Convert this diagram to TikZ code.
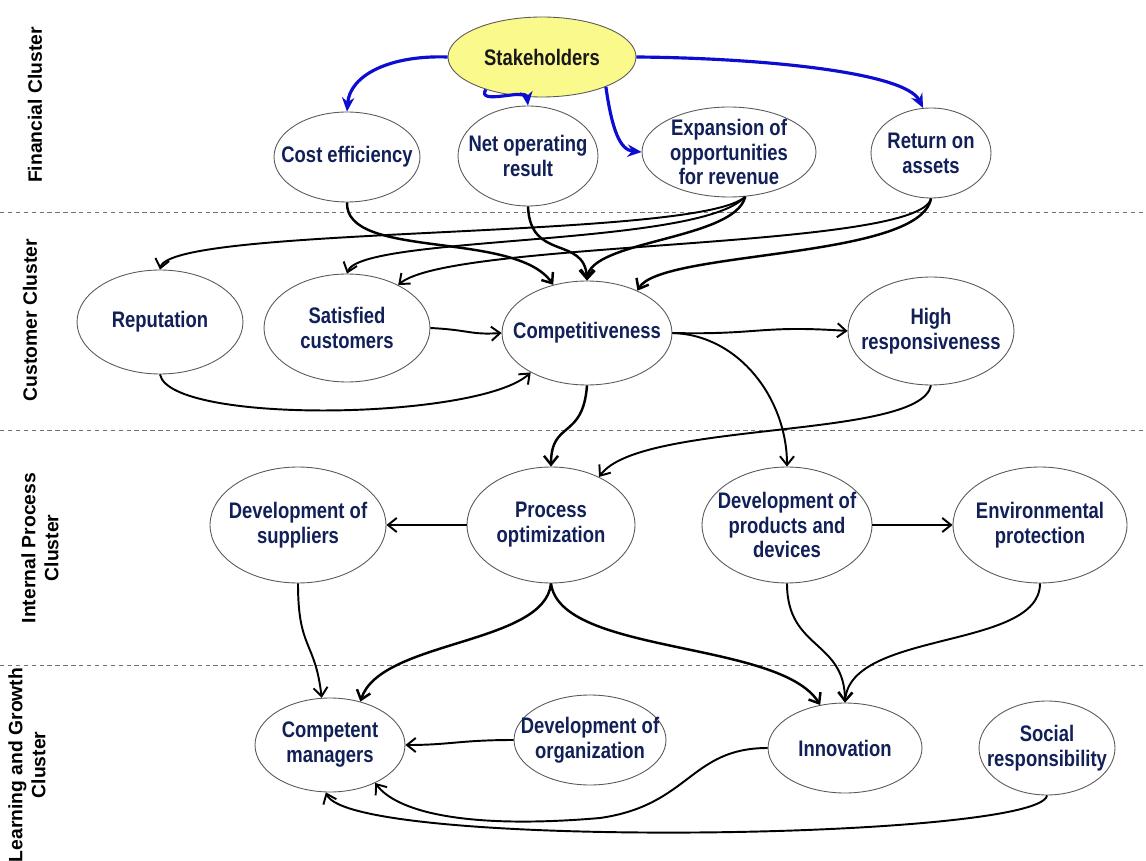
\documentclass[tikz,border=0pt]{standalone}
\usepackage{fontspec}
\setmainfont{Liberation Sans}
\newfontfamily\narrowfont{Liberation Sans}[FakeStretch=0.82]
\usetikzlibrary{shapes.geometric,arrows.meta}
\definecolor{navytext}{RGB}{18,32,88}
\definecolor{stakeyellow}{RGB}{250,250,140}
\definecolor{fundblue}{RGB}{12,12,210}
\tikzset{
  goal/.style={ellipse, draw=black!65, line width=0.5pt, fill=white, text=navytext, align=center,
    inner sep=-2cm, font=\narrowfont\bfseries\fontsize{12.8}{14.2}\selectfont},
  cluster/.style={rotate=90, align=center, font=\bfseries\fontsize{11}{13}\selectfont},
  link/.style={->, line width=1.1pt},
  fund/.style={-{Stealth[length=8pt,width=7pt]}, draw=fundblue, line width=1.8pt},
  sep/.style={draw=black!55, line width=0.5pt, dash pattern=on 2.5pt off 2pt}
}
\begin{document}
\begin{tikzpicture}[x=0.02cm,y=-0.02cm,>={Straight Barb[length=5pt,width=8pt]}]
\useasboundingbox (0,0) rectangle (1146,861);
\draw[sep] (0,212) -- (1146,212);
\draw[sep] (0,430) -- (1146,430);
\draw[sep] (0,665) -- (1146,665);

\node[cluster] (fincl) at (35,105) {Financial Cluster};
\node[cluster] (cuscl) at (30,320) {Customer Cluster};
\node[cluster] (intcl) at (40,548) {Internal Process\\Cluster};
\node[cluster] (lrncl) at (27,765) {Learning and Growth\\Cluster};

\node[goal, fill=stakeyellow, text=black!90, minimum width=3.76cm, minimum height=1.6cm] (stake) at (542,57) {Stakeholders};
\node[goal, minimum width=2.92cm, minimum height=1.8cm] (cost) at (347,157) {Cost efficiency};
\node[goal, minimum width=2.8cm, minimum height=2cm] (netop) at (528,156) {Net operating\\result};
\node[goal, minimum width=3.48cm, minimum height=1.8cm] (expan) at (729,152) {Expansion of\\opportunities\\for revenue};
\node[goal, minimum width=2.4cm, minimum height=1.8cm] (roa) at (931,153) {Return on\\assets};

\node[goal, minimum width=3.32cm, minimum height=2.08cm] (repu) at (160,322) {Reputation};
\node[goal, minimum width=3.32cm, minimum height=2.16cm] (satis) at (347,328) {Satisfied\\customers};
\node[goal, minimum width=3.4cm, minimum height=2.08cm] (compet) at (587,333) {Competitiveness};
\node[goal, minimum width=3.32cm, minimum height=2.16cm] (highr) at (931,331) {High\\responsiveness};

\node[goal, minimum width=3.52cm, minimum height=2.32cm] (devsup) at (298,525) {Development of\\suppliers};
\node[goal, minimum width=3.36cm, minimum height=2.32cm] (procopt) at (551,525) {Process\\optimization};
\node[goal, minimum width=3.4cm, minimum height=2.32cm] (devprod) at (787,525) {Development of\\products and\\devices};
\node[goal, minimum width=3.48cm, minimum height=2.32cm] (envir) at (1040,525) {Environmental\\protection};

\node[goal, minimum width=3cm, minimum height=1.88cm] (compman) at (330,745) {Competent\\managers};
\node[goal, minimum width=3.04cm, minimum height=1.8cm] (devorg) at (590,740) {Development of\\organization};
\node[goal, minimum width=3.08cm, minimum height=1.8cm] (innov) at (845,748) {Innovation};
\node[goal, minimum width=2.72cm, minimum height=1.88cm] (socres) at (1047,748) {Social\\responsibility};

\draw[fund] (stake.west) .. controls (390,55) and (350,75) .. (cost.north);
\draw[fund] (stake.210) .. controls (476,106) and (526,88) .. (netop.north);
\draw[fund] (stake.-25) .. controls (612,130) and (620,150) .. (expan.west);
\draw[fund] (stake.east) .. controls (760,58) and (905,72) .. (roa.100);

\draw[link, line width=1.4pt] (cost.south) .. controls (345,260) and (515,230) .. (compet.125);
\draw[link, line width=1.4pt] (netop.south) .. controls (530,262) and (585,235) .. (compet.north);
\draw[link] (expan.290) .. controls (700,240) and (170,225) .. (repu.north);
\draw[link] (expan.290) .. controls (700,247) and (360,235) .. (satis.north);
\draw[link, line width=1.4pt] (expan.290) .. controls (735,240) and (590,240) .. (compet.north);
\draw[link] (roa.south) .. controls (920,250) and (450,240) .. (satis.40);
\draw[link, line width=1.4pt] (roa.south) .. controls (920,260) and (660,250) .. (compet.40);
\draw[link] (satis.east) .. controls (470,330) and (470,335) .. (compet.west);
\draw[link] (repu.south) .. controls (170,425) and (480,420) .. (compet.215);

\draw[link] (compet.east) .. controls (760,335) and (760,325) .. (highr.west);
\draw[link] (compet.east) .. controls (740,335) and (787,400) .. (devprod.north);
\draw[link, line width=1.4pt] (compet.south) .. controls (583,440) and (551,420) .. (procopt.north);
\draw[link] (highr.south) .. controls (920,440) and (640,420) .. (procopt.45);

\draw[link] (procopt.west) -- (devsup.east);
\draw[link] (devprod.east) -- (envir.west);
\draw[link] (devsup.south) .. controls (298,650) and (315,640) .. (compman.100);
\draw[link, line width=1.4pt] (procopt.south) .. controls (545,645) and (380,640) .. (compman.55);
\draw[link, line width=1.4pt] (procopt.south) .. controls (560,655) and (780,640) .. (innov.120);
\draw[link] (devprod.south) .. controls (787,650) and (845,640) .. (innov.north);
\draw[link] (envir.south) .. controls (1040,650) and (850,630) .. (innov.north);

\draw[link] (devorg.west) .. controls (460,740) and (450,745) .. (compman.east);
\draw[link] (innov.west) .. controls (690,748) and (690,805) .. (600,818)
  .. controls (460,830) and (395,810) .. (compman.-40);
\draw[link] (socres.south) .. controls (1040,840) and (350,850) .. (compman.-95);
\end{tikzpicture}
\end{document}
